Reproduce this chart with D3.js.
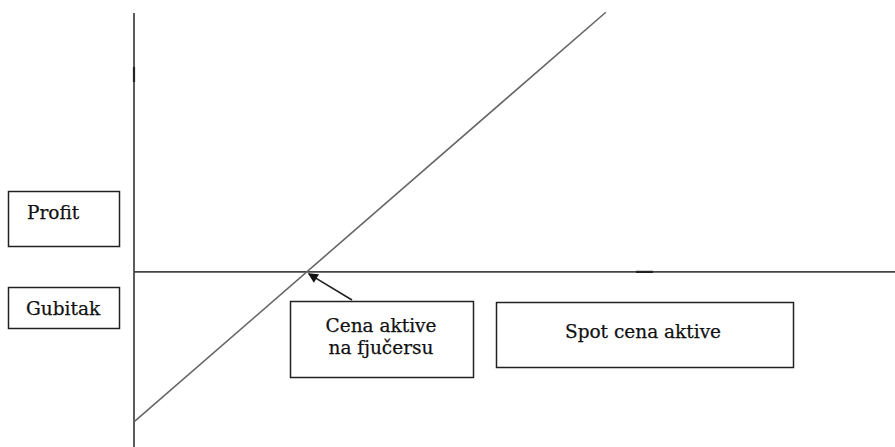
<!DOCTYPE html>
<html><head>
<meta charset="utf-8">
<script src="https://d3js.org/d3.v7.min.js"></script>
<style>
  body { margin: 0; background: #fff; }
  svg text { font-family: "DejaVu Serif", "Liberation Serif", serif; fill: #111; stroke: #111; stroke-width: 0.25; }
</style>
</head>
<body>
<svg id="chart" width="895" height="447"></svg>
<script>
  // payoff of a long futures position: profit vs spot price
  const spotValues = [0, 62];
  const profitValues = [-19.7, 34.1];
  const futuresPrice = 22.7;   // where profit crosses zero

  // label texts
  const yLabels = ["Profit", "Gubitak"];
  const arrowLabel = ["Cena aktive", "na fjučersu"];
  const xLabel = "Spot cena aktive";

  const svg = d3.select("#chart");

  // scales (same px per unit on both axes)
  let xScale = d3.scaleLinear().domain([0, 100]).range([134, 895]);
  let yScale = d3.scaleLinear().domain([-23, 34]).range([447, 13]);

  // axes
  svg.append("line")
     .attr("x1", xScale(0)).attr("x2", xScale(0))
     .attr("y1", yScale(34)).attr("y2", yScale(-23))
     .attr("stroke", "#333").attr("stroke-width", 1.6);
  svg.append("line")
     .attr("x1", xScale(0)).attr("x2", xScale(100))
     .attr("y1", yScale(0)).attr("y2", yScale(0))
     .attr("stroke", "#444").attr("stroke-width", 1.6);

  // little darker marks left over on the axes
  svg.append("line")
     .attr("x1", xScale(0)).attr("x2", xScale(0))
     .attr("y1", 67).attr("y2", 82)
     .attr("stroke", "#222").attr("stroke-width", 2.2);
  svg.append("line")
     .attr("x1", 636).attr("x2", 653)
     .attr("y1", yScale(0)).attr("y2", yScale(0))
     .attr("stroke", "#222").attr("stroke-width", 2.2);

  // payoff line
  let pts = spotValues.map((s, i) => [s, profitValues[i]]);
  svg.append("path")
     .datum(pts)
     .attr("fill", "none")
     .attr("stroke", "#666")
     .attr("stroke-width", 1.6)
     .attr("d", d3.line().x(d => xScale(d[0])).y(d => yScale(d[1])));

  // boxes with text
  function box(x, y, w, h) {
    svg.append("rect")
       .attr("x", x).attr("y", y).attr("width", w).attr("height", h)
       .attr("fill", "#fff").attr("stroke", "#222").attr("stroke-width", 1.5);
  }

  box(8.5, 191.5, 111, 55);
  svg.append("text").attr("x", 27).attr("y", 219)
     .style("font-size", "18.5px").text(yLabels[0]);

  box(8.5, 287.5, 111, 41);
  svg.append("text").attr("x", 26).attr("y", 315)
     .style("font-size", "18.5px").text(yLabels[1]);

  box(290.5, 301.5, 183, 76);
  arrowLabel.forEach((t, i) => {
    svg.append("text").attr("x", 381).attr("y", 332 + i * 22)
       .attr("text-anchor", "middle")
       .style("font-size", "18.5px").text(t);
  });

  box(496.5, 302.5, 297, 65);
  svg.append("text").attr("x", 643).attr("y", 338)
     .attr("text-anchor", "middle")
     .style("font-size", "18.5px").text(xLabel);

  // arrow to the futures price
  svg.append("defs").append("marker")
     .attr("id", "head")
     .attr("viewBox", "0 0 10 10")
     .attr("refX", 9).attr("refY", 5)
     .attr("markerWidth", 11).attr("markerHeight", 10)
     .attr("markerUnits", "userSpaceOnUse")
     .attr("orient", "auto")
     .append("path").attr("d", "M0,0 L10,5 L0,10 Z").attr("fill", "#111");

  svg.append("line")
     .attr("x1", 352).attr("y1", 300)
     .attr("x2", xScale(futuresPrice) + 2).attr("y2", yScale(0) + 2)
     .attr("stroke", "#222").attr("stroke-width", 1.6)
     .attr("marker-end", "url(#head)");
</script>
</body></html>
